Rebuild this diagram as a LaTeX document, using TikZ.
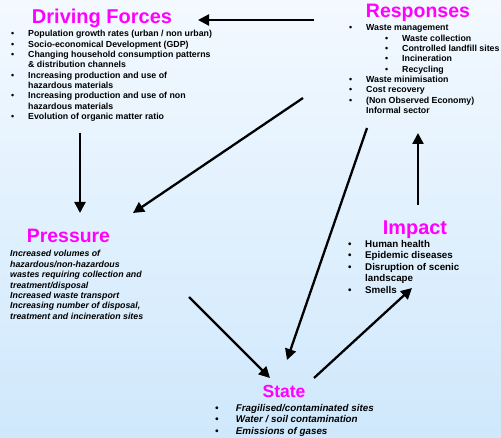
\documentclass[tikz,border=0pt]{standalone}
\usepackage{fontspec}
\setmainfont{Liberation Sans}
\usetikzlibrary{arrows.meta}
\definecolor{mag}{RGB}{255,0,255}
\definecolor{bgtop}{RGB}{243,249,255}
\definecolor{bgbot}{RGB}{207,232,252}
\newcommand\bul[1][17pt]{\makebox[#1][l]{•}}
\tikzset{
  ttl/.style={text=mag, anchor=base, inner sep=0pt, font=\bfseries\fontsize{#1}{#1}\selectfont},
  lst/.style={anchor=base west, inner sep=0pt, font=\bfseries\fontsize{8.8}{10.3}\selectfont},
  lsti/.style={anchor=base west, inner sep=0pt, font=\bfseries\itshape\fontsize{8.8}{10.4}\selectfont},
  lstb/.style={anchor=base west, inner sep=0pt, font=\bfseries\fontsize{9.8}{11.5}\selectfont},
  lstbi/.style={anchor=base west, inner sep=0pt, font=\bfseries\itshape\fontsize{9.8}{11.5}\selectfont},
  arr/.style={line width=2.3pt, -{Triangle[length=11pt,width=11pt]}}
}
\begin{document}
\begin{tikzpicture}[x=1pt,y=-1pt]
\shade[top color=bgtop,bottom color=bgbot] (0,0) rectangle (501,438);
\useasboundingbox (0,0) rectangle (501,438);

% Titles
\node[ttl=20] (df) at (102,24) {Driving Forces};
\node[ttl=19.5] (resp) at (418,18) {Responses};
\node[ttl=19.4] (pres) at (68.5,243) {Pressure};
\node[ttl=19.9] (imp) at (415,235) {Impact};
\node[ttl=17.5] (st) at (284,398) {State};

% Lists
\node[lst] (dflist) at (11,37) {\begin{tabular}[t]{@{}l@{}}
\bul Population growth rates (urban / non urban)\\
\bul Socio-economical Development (GDP)\\
\bul Changing household consumption patterns\\
\hspace*{17pt}\& distribution channels\\
\bul Increasing production and use of\\
\hspace*{17pt}hazardous materials\\
\bul Increasing production and use of non\\
\hspace*{17pt}hazardous materials\\
\bul Evolution of organic matter ratio
\end{tabular}};

\node[lst] (resplist) at (349,31) {\begin{tabular}[t]{@{}l@{}}
\bul Waste management\\
\hspace*{36pt}\bul Waste collection\\
\hspace*{36pt}\bul Controlled landfill sites\\
\hspace*{36pt}\bul Incineration\\
\hspace*{36pt}\bul Recycling\\
\bul Waste minimisation\\
\bul Cost recovery\\
\bul (Non Observed Economy)\\
\hspace*{17pt}Informal sector
\end{tabular}};

\node[lsti] (preslist) at (10,257) {\begin{tabular}[t]{@{}l@{}}
Increased volumes of\\
hazardous/non-hazardous\\
wastes requiring collection and\\
treatment/disposal\\
Increased waste transport\\
Increasing number of disposal,\\
treatment and incineration sites
\end{tabular}};

\node[lstb] (implist) at (348,247.5) {\begin{tabular}[t]{@{}l@{}}
\bul Human health\\
\bul Epidemic diseases\\
\bul Disruption of scenic\\
\hspace*{17pt}landscape\\
\bul Smells
\end{tabular}};

\node[lstbi] (stlist) at (215,411.5) {\begin{tabular}[t]{@{}l@{}}
\bul[18pt] Fragilised/contaminated sites\\
\bul[18pt] Water / soil contamination\\
\bul[18pt] Emissions of gases
\end{tabular}};

% Arrow end points
\coordinate (a1s) at (314,20);  \coordinate (a1e) at (198,20);
\coordinate (a2s) at (80,133);  \coordinate (a2e) at (80,213);
\coordinate (a3s) at (303,98);  \coordinate (a3e) at (133,213);
\coordinate (a4s) at (189,297); \coordinate (a4e) at (270,378);
\coordinate (a5s) at (367,128); \coordinate (a5e) at (287,360);
\coordinate (a6s) at (314,378); \coordinate (a6e) at (412,288);
\coordinate (a7s) at (418,205); \coordinate (a7e) at (418,133);

\draw[arr] (a1s) -- (a1e);
\draw[arr] (a2s) -- (a2e);
\draw[arr] (a3s) -- (a3e);
\draw[arr] (a4s) -- (a4e);
\draw[arr] (a5s) -- (a5e);
\draw[arr] (a6s) -- (a6e);
\draw[arr] (a7s) -- (a7e);
\end{tikzpicture}
\end{document}
